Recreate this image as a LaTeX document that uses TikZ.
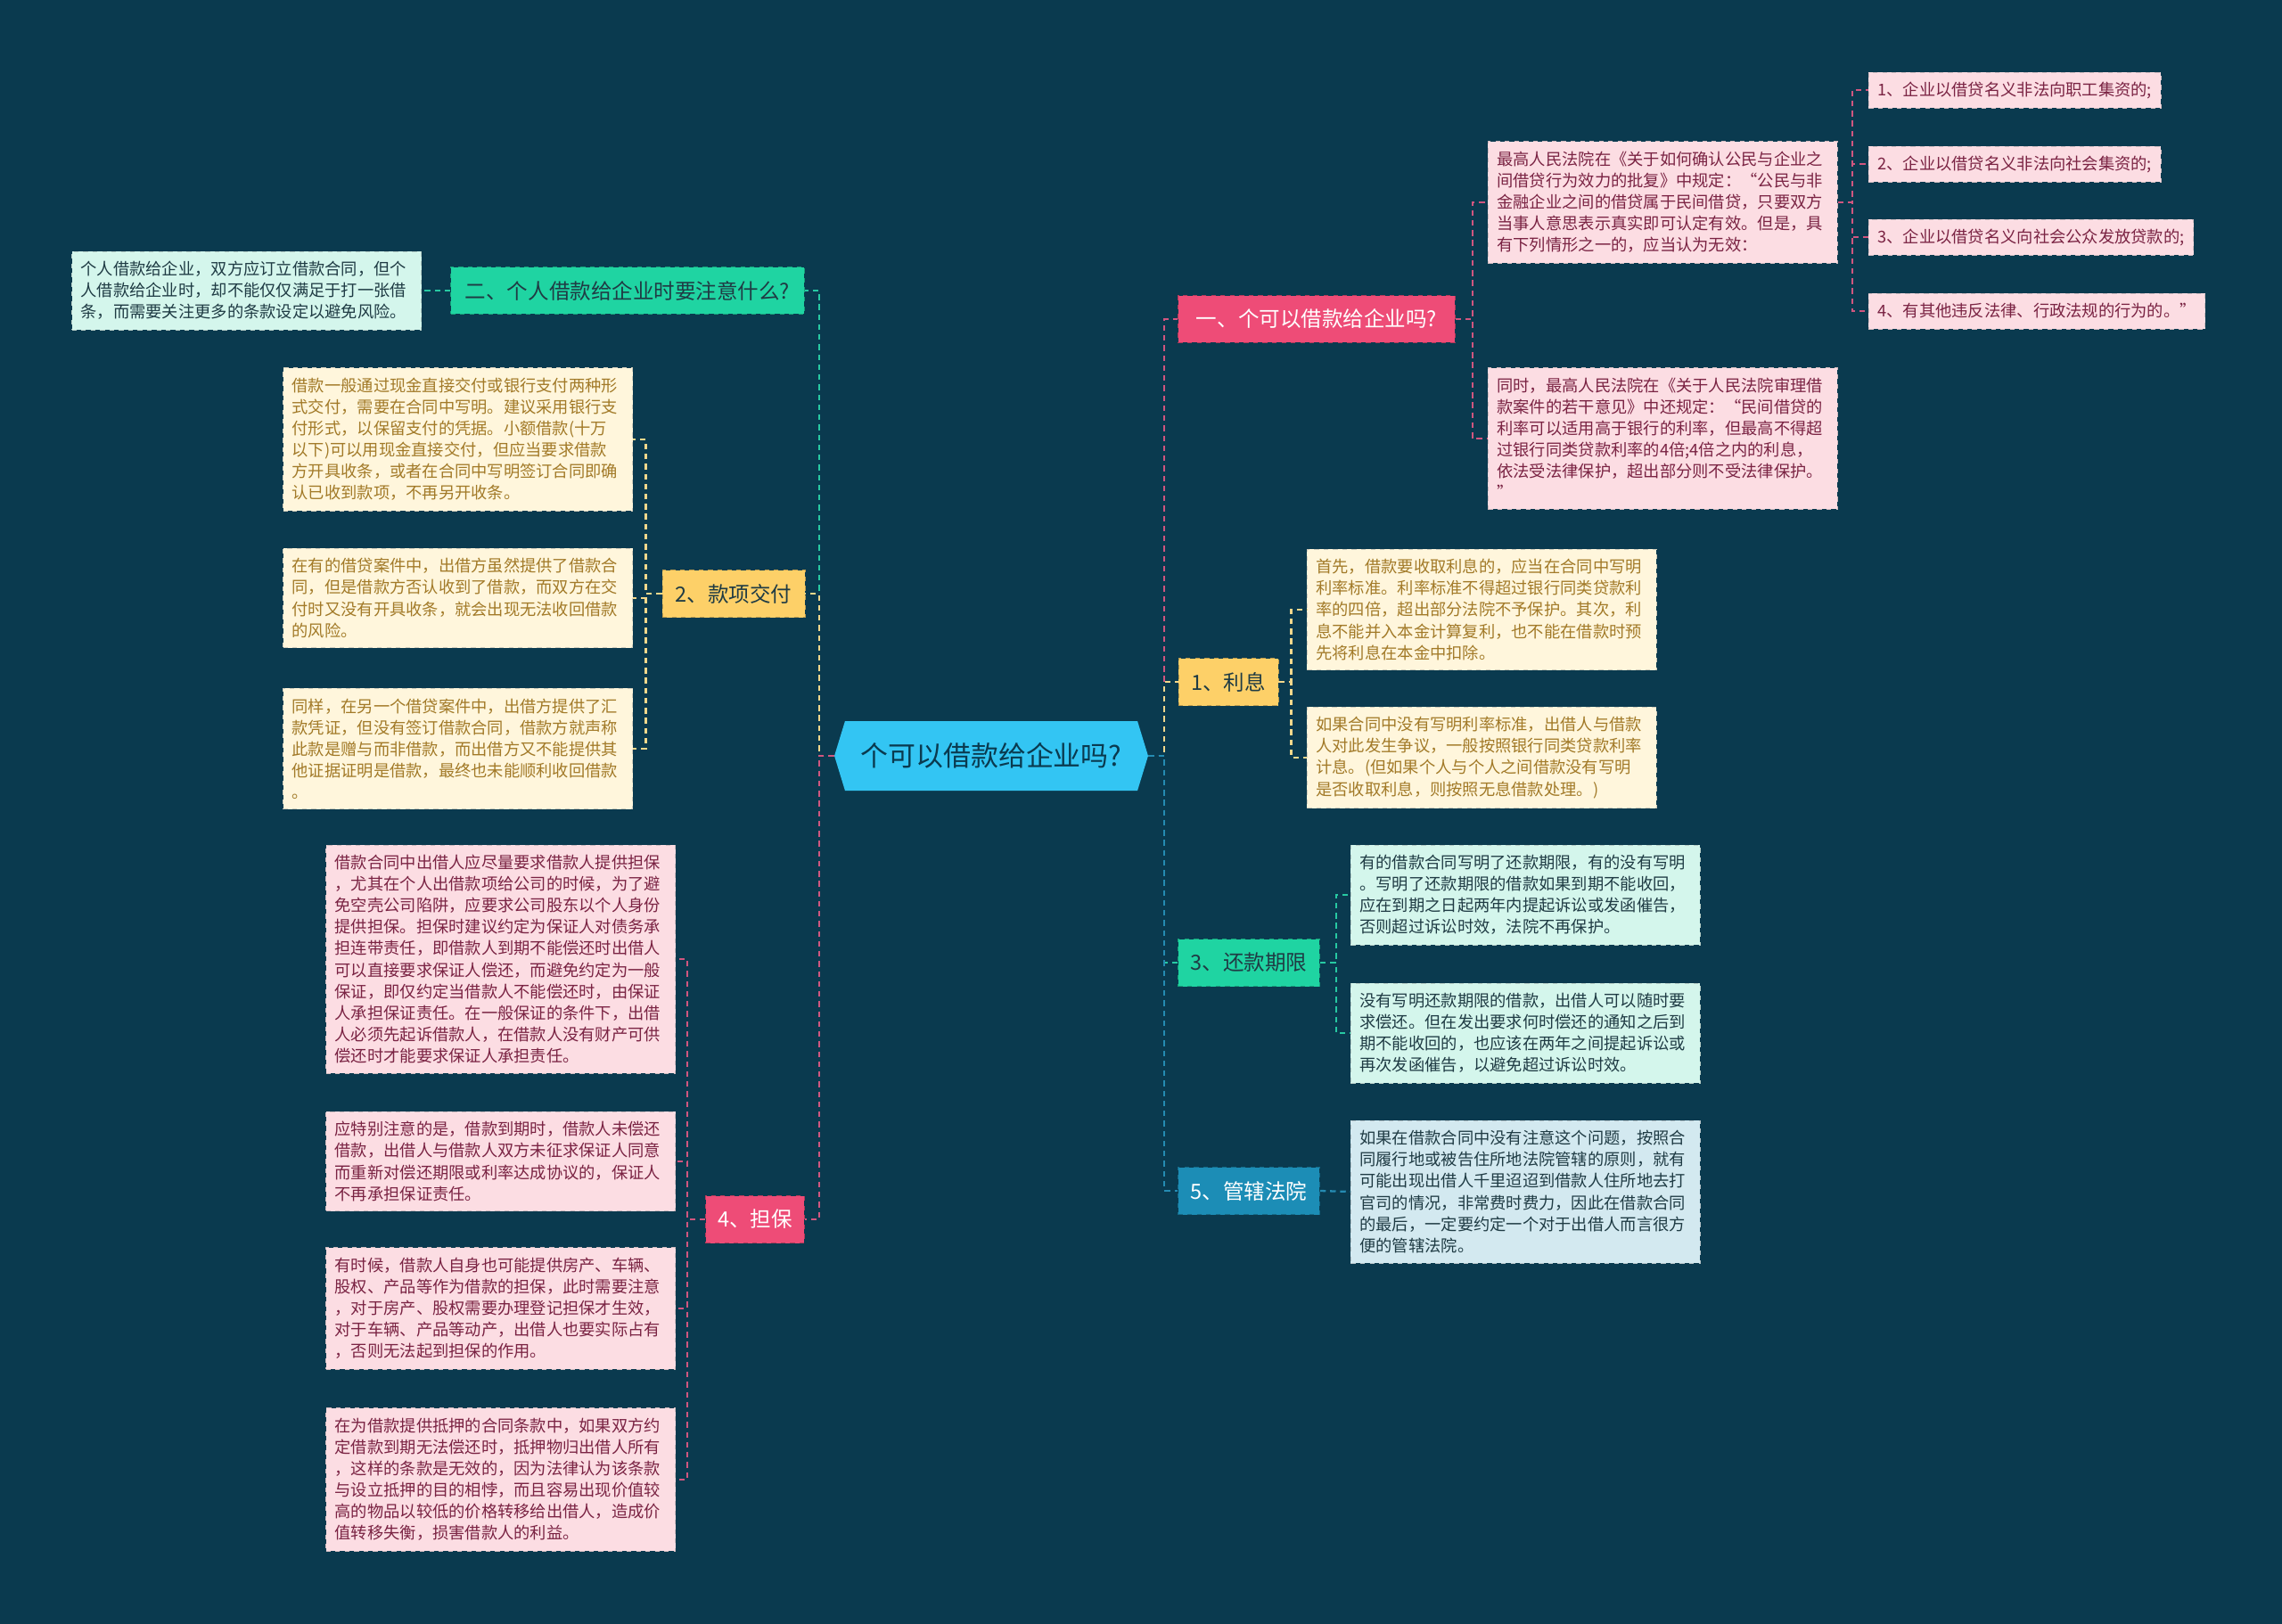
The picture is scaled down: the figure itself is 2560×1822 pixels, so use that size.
\documentclass[tikz,border=0pt]{standalone}
\usepackage{fontspec}
\setmainfont{Noto Sans CJK SC}
\usepackage{xcolor}
\usepackage{tikz}
\usetikzlibrary{shapes.symbols}

\definecolor{bgcol}{HTML}{0A3A4F}
\definecolor{rootcol}{HTML}{33C5F3}
\definecolor{redcol}{HTML}{EE4C77}
\definecolor{yelcol}{HTML}{FDD068}
\definecolor{grncol}{HTML}{1FD4A2}
\definecolor{blucol}{HTML}{1C8DB6}
\definecolor{pinkleaf}{HTML}{FCDDE3}
\definecolor{pinktext}{HTML}{7A2343}
\definecolor{creamleaf}{HTML}{FFF6DC}
\definecolor{creamtext}{HTML}{A27A28}
\definecolor{mintleaf}{HTML}{D4F6EC}
\definecolor{skyleaf}{HTML}{D3E9F0}
\definecolor{darktext}{HTML}{1F3B44}
\definecolor{redline}{HTML}{D1567F}
\definecolor{yelline}{HTML}{F3D88C}
\definecolor{grnline}{HTML}{27C9A2}
\definecolor{bluline}{HTML}{258BB2}

\begin{document}
\begin{tikzpicture}[x=0.02cm, y=-0.02cm,
      root/.style={shape=signal, signal to=west and east, signal pointer angle=146, fill=rootcol, text=bgcol,
        minimum width=7.04cm, minimum height=1.56cm, inner sep=0pt, font=\fontsize{17.6}{20}\selectfont},
      branch/.style 2 args={draw=#1!75!black, dashed, line width=0.5pt, fill=#1, text=#2,
        minimum height=1.06cm, inner xsep=0.2cm, font=\fontsize{13.4}{16}\selectfont},
      leaf/.style 2 args={draw=#1!65!gray, dashed, line width=0.5pt, fill=#1, text=#2, text width=7.44cm,
        inner xsep=0.2cm, inner ysep=6.4pt, align=left, font=\fontsize{10.4}{13.7}\selectfont},
      item/.style={draw=pinkleaf!65!gray, dashed, line width=0.5pt, fill=pinkleaf, text=pinktext,
        minimum height=0.8cm, inner xsep=0.2cm, font=\fontsize{10.4}{13.7}\selectfont},
      link/.style={draw=#1, line width=1.3pt, dash pattern=on 3.6pt off 2.8pt}
    ]
    \fill[bgcol] (0,0) rectangle (2560,1822);
    \useasboundingbox (0,0) rectangle (2560,1822);

    \node[root] (root) at (1112,848) {个可以借款给企业吗?};

    % left side
    \node[branch={grncol}{darktext}, minimum width=7.94cm] (b2) at (704,326) {二、个人借款给企业时要注意什么?};
    \node[branch={yelcol}{darktext}, minimum width=3.2cm] (bk) at (823,666) {2、款项交付};
    \node[branch={redcol}{white}, minimum width=2.22cm] (bd) at (847,1368) {4、担保};

    \node[leaf={mintleaf}{darktext}, anchor=east] (l2) at (473,326) {个人借款给企业，双方应订立借款合同，但个\\人借款给企业时，却不能仅仅满足于打一张借\\条，而需要关注更多的条款设定以避免风险。};

    \node[leaf={creamleaf}{creamtext}, anchor=east] (lk1) at (710,493) {借款一般通过现金直接交付或银行支付两种形\\式交付，需要在合同中写明。建议采用银行支\\付形式，以保留支付的凭据。小额借款(十万\\以下)可以用现金直接交付，但应当要求借款\\方开具收条，或者在合同中写明签订合同即确\\认已收到款项，不再另开收条。};
    \node[leaf={creamleaf}{creamtext}, anchor=east] (lk2) at (710,671) {在有的借贷案件中，出借方虽然提供了借款合\\同，但是借款方否认收到了借款，而双方在交\\付时又没有开具收条，就会出现无法收回借款\\的风险。};
    \node[leaf={creamleaf}{creamtext}, anchor=east] (lk3) at (710,840) {同样，在另一个借贷案件中，出借方提供了汇\\款凭证，但没有签订借款合同，借款方就声称\\此款是赠与而非借款，而出借方又不能提供其\\他证据证明是借款，最终也未能顺利收回借款\\。};

    \node[leaf={pinkleaf}{pinktext}, anchor=east] (ld1) at (758,1076) {借款合同中出借人应尽量要求借款人提供担保\\，尤其在个人出借款项给公司的时候，为了避\\免空壳公司陷阱，应要求公司股东以个人身份\\提供担保。担保时建议约定为保证人对债务承\\担连带责任，即借款人到期不能偿还时出借人\\可以直接要求保证人偿还，而避免约定为一般\\保证，即仅约定当借款人不能偿还时，由保证\\人承担保证责任。在一般保证的条件下，出借\\人必须先起诉借款人，在借款人没有财产可供\\偿还时才能要求保证人承担责任。};
    \node[leaf={pinkleaf}{pinktext}, anchor=east] (ld2) at (758,1303) {应特别注意的是，借款到期时，借款人未偿还\\借款，出借人与借款人双方未征求保证人同意\\而重新对偿还期限或利率达成协议的，保证人\\不再承担保证责任。};
    \node[leaf={pinkleaf}{pinktext}, anchor=east] (ld3) at (758,1468) {有时候，借款人自身也可能提供房产、车辆、\\股权、产品等作为借款的担保，此时需要注意\\，对于房产、股权需要办理登记担保才生效，\\对于车辆、产品等动产，出借人也要实际占有\\，否则无法起到担保的作用。};
    \node[leaf={pinkleaf}{pinktext}, anchor=east] (ld4) at (758,1660) {在为借款提供抵押的合同条款中，如果双方约\\定借款到期无法偿还时，抵押物归出借人所有\\，这样的条款是无效的，因为法律认为该条款\\与设立抵押的目的相悖，而且容易出现价值较\\高的物品以较低的价格转移给出借人，造成价\\值转移失衡，损害借款人的利益。};

    % right side
    \node[branch={redcol}{white}, minimum width=6.22cm] (b1) at (1477,358) {一、个可以借款给企业吗?};
    \node[branch={yelcol}{darktext}, minimum width=2.24cm] (bx) at (1378,765) {1、利息};
    \node[branch={grncol}{darktext}, minimum width=3.18cm] (bh) at (1401,1080) {3、还款期限};
    \node[branch={blucol}{white}, minimum width=3.18cm] (bg) at (1401,1336) {5、管辖法院};

    \node[leaf={pinkleaf}{pinktext}, anchor=west] (l1a) at (1669,227) {最高人民法院在《关于如何确认公民与企业之\\间借贷行为效力的批复》中规定：“公民与非\\金融企业之间的借贷属于民间借贷，只要双方\\当事人意思表示真实即可认定有效。但是，具\\有下列情形之一的，应当认为无效：};
    \node[leaf={pinkleaf}{pinktext}, anchor=west] (l1b) at (1669,492) {同时，最高人民法院在《关于人民法院审理借\\款案件的若干意见》中还规定：“民间借贷的\\利率可以适用高于银行的利率，但最高不得超\\过银行同类贷款利率的4倍;4倍之内的利息，\\依法受法律保护，超出部分则不受法律保护。\\”};

    \node[item, anchor=west] (c1) at (2096,101) {1、企业以借贷名义非法向职工集资的;};
    \node[item, anchor=west] (c2) at (2096,184) {2、企业以借贷名义非法向社会集资的;};
    \node[item, anchor=west] (c3) at (2096,266) {3、企业以借贷名义向社会公众发放贷款的;};
    \node[item, anchor=west] (c4) at (2096,349) {4、有其他违反法律、行政法规的行为的。”};

    \node[leaf={creamleaf}{creamtext}, anchor=west] (lx1) at (1466,684) {首先，借款要收取利息的，应当在合同中写明\\利率标准。利率标准不得超过银行同类贷款利\\率的四倍，超出部分法院不予保护。其次，利\\息不能并入本金计算复利，也不能在借款时预\\先将利息在本金中扣除。};
    \node[leaf={creamleaf}{creamtext}, anchor=west] (lx2) at (1466,850) {如果合同中没有写明利率标准，出借人与借款\\人对此发生争议，一般按照银行同类贷款利率\\计息。(但如果个人与个人之间借款没有写明\\是否收取利息，则按照无息借款处理。)};

    \node[leaf={mintleaf}{darktext}, anchor=west] (lh1) at (1515,1004) {有的借款合同写明了还款期限，有的没有写明\\。写明了还款期限的借款如果到期不能收回，\\应在到期之日起两年内提起诉讼或发函催告，\\否则超过诉讼时效，法院不再保护。};
    \node[leaf={mintleaf}{darktext}, anchor=west] (lh2) at (1515,1159) {没有写明还款期限的借款，出借人可以随时要\\求偿还。但在发出要求何时偿还的通知之后到\\期不能收回的，也应该在两年之间提起诉讼或\\再次发函催告，以避免超过诉讼时效。};

    \node[leaf={skyleaf}{darktext}, anchor=west] (lg) at (1515,1337) {如果在借款合同中没有注意这个问题，按照合\\同履行地或被告住所地法院管辖的原则，就有\\可能出现出借人千里迢迢到借款人住所地去打\\官司的情况，非常费时费力，因此在借款合同\\的最后，一定要约定一个对于出借人而言很方\\便的管辖法院。};

    % root to branches
    \draw[link=grnline] (root.west) -- ++(-17,0) |- (b2.east);
    \draw[link=yelline] (root.west) -- ++(-17,0) |- (bk.east);
    \draw[link=redline] (root.west) -- ++(-17,0) |- (bd.east);
    \draw[link=redline] (root.east) -- ++(18,0) |- (b1.west);
    \draw[link=yelline] (root.east) -- ++(18,0) |- (bx.west);
    \draw[link=grnline] (root.east) -- ++(18,0) |- (bh.west);
    \draw[link=bluline] (root.east) -- ++(18,0) |- (bg.west);

    % branches to leaves
    \draw[link=grnline] (b2.west) -- (l2.east);
    \draw[link=yelline] (bk.west) -- ++(-18,0) |- (lk1.east);
    \draw[link=yelline] (bk.west) -- ++(-18,0) |- (lk2.east);
    \draw[link=yelline] (bk.west) -- ++(-18,0) |- (lk3.east);
    \draw[link=redline] (bd.west) -- ++(-20,0) |- (ld1.east);
    \draw[link=redline] (bd.west) -- ++(-20,0) |- (ld2.east);
    \draw[link=redline] (bd.west) -- ++(-20,0) |- (ld3.east);
    \draw[link=redline] (bd.west) -- ++(-20,0) |- (ld4.east);
    \draw[link=redline] (b1.east) -- ++(19,0) |- (l1a.west);
    \draw[link=redline] (b1.east) -- ++(19,0) |- (l1b.west);
    \draw[link=redline] (l1a.east) -- ++(16,0) |- (c1.west);
    \draw[link=redline] (l1a.east) -- ++(16,0) |- (c2.west);
    \draw[link=redline] (l1a.east) -- ++(16,0) |- (c3.west);
    \draw[link=redline] (l1a.east) -- ++(16,0) |- (c4.west);
    \draw[link=yelline] (bx.east) -- ++(14,0) |- (lx1.west);
    \draw[link=yelline] (bx.east) -- ++(14,0) |- (lx2.west);
    \draw[link=grnline] (bh.east) -- ++(18,0) |- (lh1.west);
    \draw[link=grnline] (bh.east) -- ++(18,0) |- (lh2.west);
    \draw[link=bluline] (bg.east) -- (lg.west);
  \end{tikzpicture}
\end{document}
